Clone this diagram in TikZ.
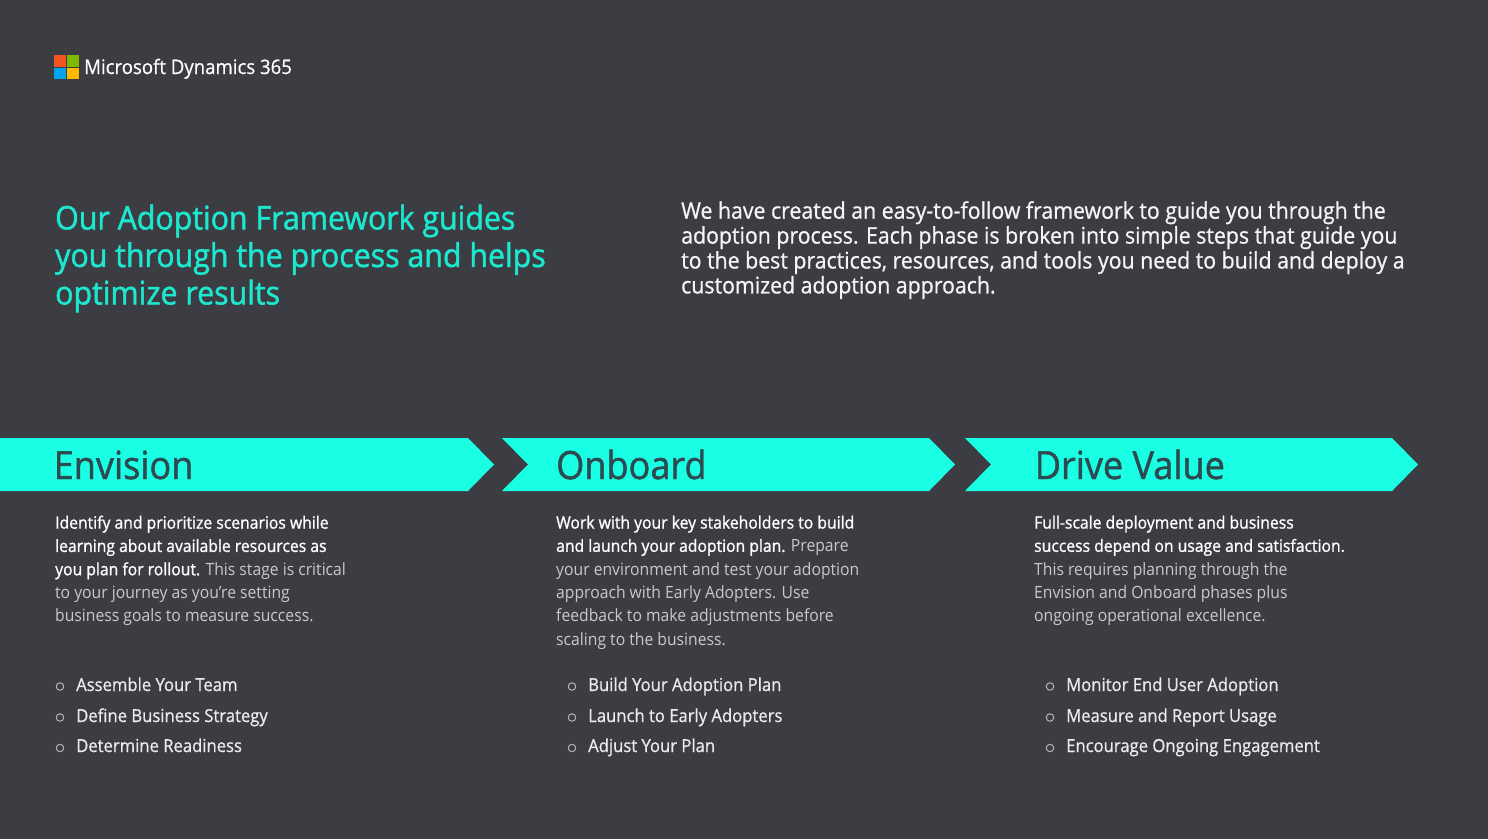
\documentclass[tikz,border=0pt]{standalone}
\usepackage{fontspec}
\setmainfont{Open Sans}[FakeStretch=0.93]
\definecolor{slatebg}{HTML}{3C3D43}
\definecolor{aquaband}{HTML}{1AFFE4}
\definecolor{aquatitle}{HTML}{1CE8CF}
\definecolor{bandtext}{HTML}{2C4A50}
\definecolor{softgray}{HTML}{C9C9CB}
\definecolor{bulletgray}{HTML}{B5B5B8}
\definecolor{logored}{HTML}{F25322}
\definecolor{logogreen}{HTML}{7FBA00}
\definecolor{logoblue}{HTML}{00A4EF}
\definecolor{logoyellow}{HTML}{FFB900}
\tikzset{
  band/.style={fill=aquaband, draw=none},
  bandlabel/.style={anchor=base west, inner sep=0pt, text=bandtext, font=\fontsize{38.8}{38.8}\selectfont\addfontfeature{FakeBold=1.2}},
  intro/.style={anchor=north west, inner sep=0pt, align=left, text=softgray, font=\fontsize{16.9}{23.3}\selectfont},
  steplabel/.style={anchor=base west, inner sep=0pt, text=white!92!black, font=\fontsize{17.9}{20}\selectfont\addfontfeature{FakeBold=0.8}},
  stepdot/.style={circle, draw=bulletgray, line width=1pt, minimum size=7.5pt, inner sep=0pt},
}
\newcommand{\lead}[1]{\textcolor{white}{\addfontfeature{FakeBold=1.1}#1}}
\begin{document}
\begin{tikzpicture}[x=1pt, y=-1pt]
  \useasboundingbox (0,0) rectangle (1488,839);
  \fill[slatebg] (0,0) rectangle (1488,839);

  % logo
  \fill[logored] (54,55) rectangle (66,67);
  \fill[logogreen] (67,55) rectangle (79,67);
  \fill[logoblue] (54,68) rectangle (66,79);
  \fill[logoyellow] (67,68) rectangle (79,79);
  \node[anchor=base west, inner sep=0pt, text=white, font=\fontsize{20}{24}\selectfont\addfontfeature{FakeBold=0.6}] (logotext) at (84,74) {Microsoft Dynamics 365};

  % heading
  \node[anchor=north west, inner sep=0pt, align=left, text=aquatitle, font=\fontsize{32.6}{37.5}\selectfont\addfontfeature{FakeBold=1.4}] (headline) at (55,204.5)
    {Our Adoption Framework guides\\you through the process and helps\\optimize results};
  \node[anchor=north west, inner sep=0pt, align=left, text=white!96!black, font=\fontsize{22.9}{24.9}\selectfont\addfontfeature{FakeBold=0.8}] (summary) at (681,201)
    {We have created an easy-to-follow framework to guide you through the\\adoption process. Each phase is broken into simple steps that guide you\\to the best practices, resources, and tools you need to build and deploy a\\customized adoption approach.};

  % bands
  \fill[band] (0,438) -- (468,438) -- (494,464.5) -- (468,491) -- (0,491) -- cycle;
  \fill[band] (502,438) -- (929,438) -- (955,464.5) -- (929,491) -- (502,491) -- (528,464.5) -- cycle;
  \fill[band] (965,438) -- (1392,438) -- (1418,464.5) -- (1392,491) -- (965,491) -- (991,464.5) -- cycle;
  \node[bandlabel] (envision) at (53.5,479) {Envision};
  \node[bandlabel] (onboard) at (556,479) {Onboard};
  \node[bandlabel] (drivevalue) at (1034.5,479) {Drive Value};

  % intro texts
  \node[intro] (envisiontext) at (55,515.5)
    {\lead{Identify and prioritize scenarios while}\\\lead{learning about available resources as}\\\lead{you plan for rollout.} This stage is critical\\to your journey as you’re setting\\business goals to measure success.};
  \node[intro] (onboardtext) at (556,515.5)
    {\lead{Work with your key stakeholders to build}\\\lead{and launch your adoption plan.} Prepare\\your environment and test your adoption\\approach with Early Adopters. Use\\feedback to make adjustments before\\scaling to the business.};
  \node[intro] (drivetext) at (1034,515.5)
    {\lead{Full-scale deployment and business}\\\lead{success depend on usage and satisfaction.}\\This requires planning through the\\Envision and Onboard phases plus\\ongoing operational excellence.};

  % steps
  \node[stepdot] (dota) at (60,686.5) {};
  \node[stepdot] (dotb) at (60,717.5) {};
  \node[stepdot] (dotc) at (60,748) {};
  \node[steplabel] (stepa) at (76,691) {Assemble Your Team};
  \node[steplabel] (stepb) at (76,722) {Define Business Strategy};
  \node[steplabel] (stepc) at (76,752) {Determine Readiness};

  \node[stepdot] (dotd) at (572,686.5) {};
  \node[stepdot] (dote) at (572,717.5) {};
  \node[stepdot] (dotf) at (572,748) {};
  \node[steplabel] (stepd) at (588,691) {Build Your Adoption Plan};
  \node[steplabel] (stepe) at (588,722) {Launch to Early Adopters};
  \node[steplabel] (stepf) at (588,752) {Adjust Your Plan};

  \node[stepdot] (dotg) at (1050,686.5) {};
  \node[stepdot] (doth) at (1050,717.5) {};
  \node[stepdot] (doti) at (1050,748) {};
  \node[steplabel] (stepg) at (1066,691) {Monitor End User Adoption};
  \node[steplabel] (steph) at (1066,722) {Measure and Report Usage};
  \node[steplabel] (stepi) at (1066,752) {Encourage Ongoing Engagement};
\end{tikzpicture}
\end{document}
